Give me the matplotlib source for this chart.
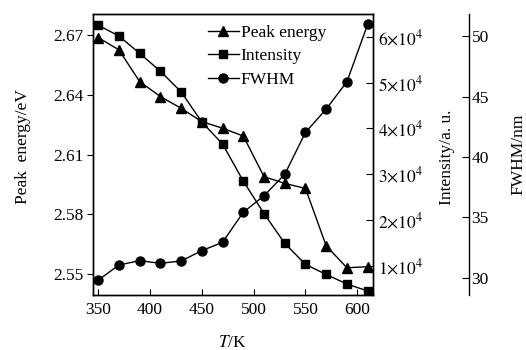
import matplotlib
matplotlib.use("Agg")
import matplotlib.pyplot as plt
from matplotlib.ticker import FuncFormatter

plt.rcParams['font.family'] = ['Liberation Serif', 'DejaVu Serif']
plt.rcParams['mathtext.fontset'] = 'stix'
plt.rcParams['font.size'] = 12.5

# data
temps = [350, 370, 390, 410, 430, 450, 470, 490, 510, 530, 550, 570, 590, 610]
peak_energy = [2.6687, 2.6625, 2.6466, 2.6391, 2.6332, 2.6265, 2.6232, 2.6193,
               2.5989, 2.5955, 2.5930, 2.5642, 2.5532, 2.5537]
intensity = [6.255e4, 6.02e4, 5.64e4, 5.25e4, 4.80e4, 4.14e4, 3.66e4, 2.85e4,
             2.14e4, 1.49e4, 1.03e4, 0.81e4, 0.60e4, 0.45e4]
fwhm = [29.8, 31.06, 31.42, 31.2, 31.39, 32.25, 32.94, 35.43,
        36.8, 38.57, 42.05, 43.98, 46.25, 51.0]

x_ticks = [350, 400, 450, 500, 550, 600]
pe_ticks = [2.55, 2.58, 2.61, 2.64, 2.67]
int_ticks = [1e4, 2e4, 3e4, 4e4, 5e4, 6e4]
fwhm_ticks = [30, 35, 40, 45, 50]

fig = plt.figure(figsize=(5.26, 3.5), dpi=100)
ax = fig.add_axes([0.1768, 0.157, 0.532, 0.803])
par1 = ax.twinx()
par2 = ax.twinx()
par2.spines['right'].set_position(('axes', 1.343))
for s in ['top', 'left', 'bottom']:
    par2.spines[s].set_visible(False)

kw = dict(color='black', lw=1.0, mfc='black', mec='black')
l1, = ax.plot(temps, peak_energy, marker='^', ms=7, label='Peak energy', **kw)
l2, = par1.plot(temps, intensity, marker='s', ms=5.5, label='Intensity', **kw)
l3, = par2.plot(temps, fwhm, marker='o', ms=6.5, label='FWHM', **kw)

ax.set_xlim(345, 615)
ax.set_ylim(2.5395, 2.6805)
par1.set_ylim(3600, 65000)
par2.set_ylim(28.57, 51.86)

ax.set_xticks(x_ticks)
ax.set_yticks(pe_ticks)
ax.yaxis.set_major_formatter(FuncFormatter(lambda v, p: f"{v:.2f}"))
par1.set_yticks(int_ticks)
par1.yaxis.set_major_formatter(
    FuncFormatter(lambda v, p: r"$%d{\times}10^4$" % round(v / 1e4)))
par2.set_yticks(fwhm_ticks)

ax.tick_params(axis='x', direction='in', length=4, width=0.8, pad=5)
ax.tick_params(axis='y', direction='out', length=4, width=0.8, pad=3)
par1.tick_params(axis='y', direction='in', length=5, width=0.8, pad=4)
par2.tick_params(axis='y', direction='in', length=5, width=0.8, pad=2)

for a in (ax, par1, par2):
    for s in a.spines.values():
        s.set_linewidth(1.0)

ax.set_xlabel(r"$T$/K")
ax.xaxis.set_label_coords(0.5, -0.142)
ax.set_ylabel("Peak  energy/eV")
ax.yaxis.set_label_coords(-0.222, 0.53)
par1.set_ylabel("Intensity/a. u.")
par1.yaxis.set_label_coords(1.235, 0.49)
par2.set_ylabel("FWHM/nm")
par2.yaxis.set_label_coords(1.492, 0.5)

par2.legend(handles=[l1, l2, l3], loc='upper left', bbox_to_anchor=(0.41, 0.96),
            frameon=False, borderpad=0, borderaxespad=0, handlelength=1.8,
            handletextpad=0.1, labelspacing=0.4, numpoints=1, fontsize=12.5)

fig.savefig("out.png", dpi=100)
